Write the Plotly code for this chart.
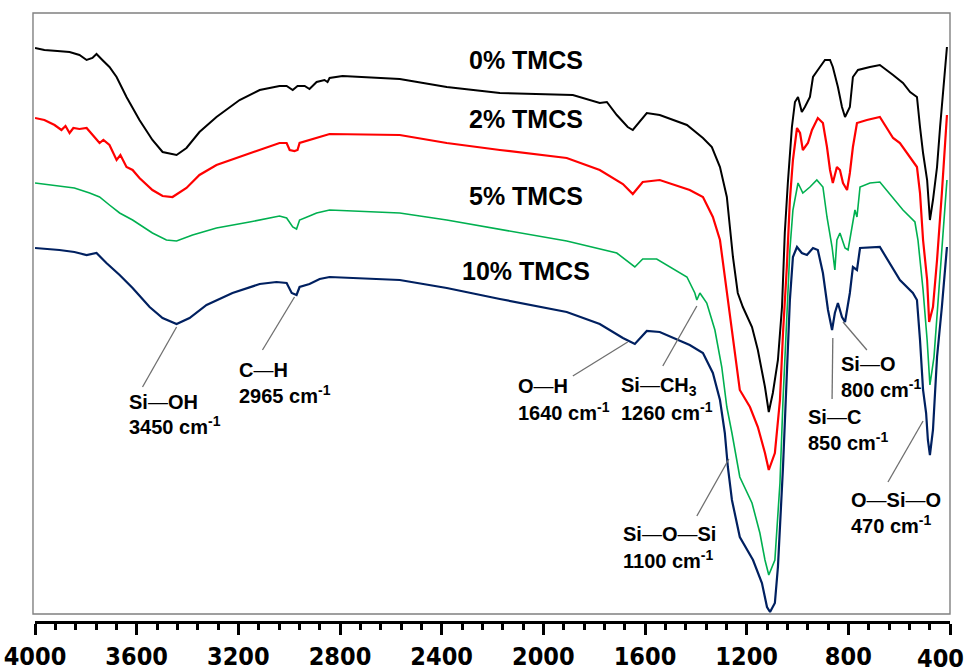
import plotly.graph_objects as go

# ---- data: wavenumber (cm-1) and transmittance (a.u., stacked) ----
wn_0 = [4000, 3963, 3912, 3864, 3825, 3797, 3774, 3758, 3735, 3707, 3679, 3640, 3589, 3538, 3498, 3443, 3404, 3353, 3286, 3195,
        3116, 3038, 3010, 2986, 2967, 2939, 2920, 2892, 2861, 2849, 2841, 2790, 2565, 2380, 2171, 2014, 1884, 1778, 1750, 1711,
        1668, 1648, 1620, 1593, 1542, 1435, 1372, 1337, 1305, 1278, 1266, 1254, 1235, 1215, 1179, 1156, 1128, 1113, 1097, 1077,
        1061, 1050, 1038, 1022, 1010, 998, 983, 971, 951, 939, 920, 892, 872, 861, 841, 825, 813, 794, 782, 762,
        715, 676, 624, 585, 557, 530, 518, 506, 490, 479, 467, 451, 439, 427, 412]
t_0 = [57.3, 57.1, 57.0, 56.9, 56.6, 56.1, 56.3, 56.7, 56.1, 55.4, 54.4, 52.4, 50.1, 48.1, 46.9, 46.6, 47.3, 48.9, 50.4, 52.1,
       53.1, 53.5, 53.5, 53.1, 53.5, 53.5, 53.2, 53.9, 54.1, 53.9, 54.3, 54.5, 54.2, 53.4, 52.8, 52.7, 52.6, 51.8, 51.9, 50.6,
       49.4, 49.1, 50.0, 50.8, 50.6, 49.6, 48.3, 47.4, 45.4, 42.4, 39.4, 36.4, 32.8, 31.4, 29.4, 27.1, 23.4, 20.9, 22.8, 26.1,
       31.4, 38.8, 43.8, 49.4, 51.9, 52.4, 50.9, 51.4, 52.4, 54.4, 55.1, 56.1, 56.1, 55.4, 53.4, 51.4, 50.4, 51.4, 54.4, 55.1,
       55.4, 55.6, 54.6, 53.8, 52.9, 52.4, 49.4, 46.8, 44.1, 40.1, 42.1, 45.4, 49.4, 53.1, 57.4]

wn_2 = [4000, 3963, 3923, 3896, 3880, 3864, 3849, 3825, 3797, 3766, 3746, 3731, 3707, 3679, 3664, 3640, 3616, 3589, 3538, 3498,
        3459, 3404, 3353, 3286, 3195, 3116, 3038, 3010, 2998, 2979, 2967, 2959, 2920, 2900, 2841, 2565, 2380, 2171, 1908, 1778,
        1687, 1648, 1609, 1542, 1424, 1372, 1333, 1305, 1286, 1266, 1239, 1227, 1187, 1156, 1128, 1113, 1089, 1069, 1057, 1042,
        1030, 1018, 1002, 990, 979, 959, 943, 920, 900, 884, 872, 861, 845, 833, 821, 805, 794, 782, 766, 727,
        676, 624, 597, 557, 530, 518, 506, 490, 482, 467, 451, 432, 420, 412]
t_2 = [50.3, 50.1, 49.6, 49.1, 49.5, 48.8, 49.3, 49.2, 49.3, 48.4, 47.8, 48.1, 47.6, 46.1, 46.6, 45.4, 45.1, 44.3, 43.1, 42.5,
       42.4, 43.3, 44.6, 45.6, 46.4, 47.1, 47.8, 47.8, 47.1, 47.0, 47.1, 47.8, 48.1, 48.3, 48.7, 48.6, 47.8, 47.1, 46.3, 45.1,
       43.7, 42.7, 43.9, 44.1, 43.1, 42.4, 40.4, 38.1, 34.4, 30.4, 25.4, 23.1, 21.4, 19.4, 16.8, 15.1, 16.8, 22.1, 28.8, 35.4,
       42.1, 46.1, 49.3, 48.8, 47.1, 47.8, 49.1, 50.3, 49.8, 47.4, 45.1, 43.8, 45.4, 45.1, 43.8, 43.1, 44.8, 47.4, 49.8, 50.1,
       50.4, 48.3, 47.8, 46.4, 45.4, 42.8, 38.1, 34.1, 29.9, 31.4, 36.1, 42.8, 48.1, 50.6]

wn_5 = [4000, 3904, 3845, 3785, 3746, 3707, 3667, 3616, 3538, 3483, 3443, 3380, 3286, 3156, 3038, 3010, 2986, 2971, 2959, 2920,
        2892, 2841, 2565, 2380, 2171, 1908, 1711, 1660, 1640, 1609, 1554, 1435, 1404, 1396, 1384, 1357, 1325, 1298, 1278, 1258,
        1227, 1179, 1148, 1128, 1113, 1089, 1069, 1057, 1042, 1030, 1018, 998, 979, 951, 924, 900, 884, 864, 853, 845,
        833, 813, 801, 786, 774, 766, 754, 715, 676, 585, 538, 526, 506, 490, 479, 463, 447, 427, 412]
t_5 = [43.8, 43.5, 43.3, 42.8, 42.4, 41.6, 40.8, 40.1, 38.8, 38.1, 38.0, 38.6, 39.3, 39.9, 40.5, 40.3, 39.4, 39.2, 40.1, 40.5,
       40.8, 41.1, 40.8, 40.1, 39.2, 38.0, 36.8, 35.8, 35.4, 36.2, 36.2, 34.4, 32.8, 32.1, 32.8, 31.8, 29.1, 25.4, 21.4, 18.8,
       14.4, 11.8, 8.8, 6.1, 4.6, 6.1, 13.8, 22.1, 30.4, 37.1, 41.1, 43.8, 42.8, 43.4, 44.1, 43.4, 40.4, 37.4, 35.1, 38.1,
       38.8, 37.3, 37.1, 39.4, 41.1, 40.4, 43.4, 43.8, 43.9, 41.1, 39.9, 38.1, 33.1, 28.1, 23.6, 26.4, 32.1, 38.8, 44.1]

wn_10 = [4000, 3904, 3845, 3797, 3758, 3719, 3667, 3616, 3549, 3498, 3443, 3392, 3325, 3223, 3116, 3050, 3010, 2990, 2971, 2959,
         2920, 2880, 2841, 2565, 2380, 2171, 1908, 1778, 1687, 1640, 1593, 1542, 1424, 1372, 1333, 1305, 1286, 1274, 1258, 1227,
         1175, 1140, 1120, 1108, 1089, 1077, 1057, 1042, 1030, 1018, 1002, 983, 963, 939, 920, 900, 880, 864, 853, 841,
         825, 813, 794, 782, 766, 754, 676, 597, 546, 530, 518, 506, 494, 487, 479, 467, 451, 432, 412]
t_10 = [37.3, 37.1, 36.9, 36.6, 36.8, 35.8, 34.6, 33.3, 31.4, 30.3, 29.7, 30.3, 31.6, 32.8, 33.7, 33.9, 33.8, 32.8, 32.6, 33.4,
        33.7, 34.2, 34.4, 34.1, 33.3, 32.2, 30.9, 29.7, 28.3, 27.7, 29.0, 28.9, 27.6, 26.8, 24.8, 22.1, 18.8, 15.4, 12.1, 8.4,
        6.1, 3.8, 1.4, 0.9, 1.8, 5.4, 15.4, 25.4, 32.1, 36.4, 37.4, 36.8, 36.6, 37.3, 37.1, 34.8, 31.1, 29.1, 30.8, 31.8,
        30.4, 29.9, 32.8, 35.4, 35.1, 37.3, 37.4, 34.1, 32.8, 32.1, 28.1, 23.1, 20.8, 18.1, 16.6, 19.1, 26.4, 31.4, 37.4]

series_names = ["0% TMCS", "2% TMCS", "5% TMCS", "10% TMCS"]
series_colors = ["#000000", "#ff0000", "#00b050", "#002060"]
series_widths = [2.0, 2.2, 1.6, 2.2]
series_label_y = [56.1, 50.2, 42.5, 35.0]
series_label_x = 2070

tick_vals = [4000, 3600, 3200, 2800, 2400, 2000, 1600, 1200, 800, 400]
tick_text = ["4000", "3600", "3200", "2800", "2400", "2000", "1600", "1200", "800", ""]
last_tick_label = "400"   # drawn right-aligned at the figure edge, as in the original

# band labels: (line1, line2, text x, line1 y, line2 y, leader from (x,y) to (x,y))
band_labels = [
    ("<b>Si</b>—<b>OH</b>", "<b>3450 cm<sup>-1</sup></b>", 3636, 21.9, 19.6, 3443, 29.4, 3577, 23.4),
    ("<b>C</b>—<b>H</b>", "<b>2965 cm<sup>-1</sup></b>", 3203, 25.1, 22.7, 2979, 32.4, 3105, 27.1),
    ("<b>O</b>—<b>H</b>", "<b>1640 cm<sup>-1</sup></b>", 2105, 23.5, 21.0, 1668, 27.9, 1884, 24.5),
    ("<b>Si</b>—<b>CH<sub>3</sub></b>", "<b>1260 cm<sup>-1</sup></b>", 1699, 23.5, 21.0, 1396, 31.5, 1530, 25.5),
    ("<b>Si</b>—<b>O</b>—<b>Si</b>", "<b>1100 cm<sup>-1</sup></b>", 1691, 8.7, 6.2, 1270, 16.2, 1396, 10.5),
    ("<b>Si</b>—<b>O</b>", "<b>800 cm<sup>-1</sup></b>", 833, 25.7, 23.3, 821, 29.9, 727, 27.1),
    ("<b>Si</b>—<b>C</b>", "<b>850 cm<sup>-1</sup></b>", 963, 20.4, 18.0, 861, 28.3, 864, 22.2),
    ("<b>O</b>—<b>Si</b>—<b>O</b>", "<b>470 cm<sup>-1</sup></b>", 794, 12.1, 9.7, 506, 20.0, 644, 13.9),
]

fig = go.Figure()
for wn, t, name, col, w in zip([wn_0, wn_2, wn_5, wn_10], [t_0, t_2, t_5, t_10],
                               series_names, series_colors, series_widths):
    fig.add_trace(go.Scatter(x=wn, y=t, mode="lines", name=name,
                             line=dict(color=col, width=w), showlegend=False))

font_lbl = "Liberation Sans, Arial, sans-serif"
tick_font = dict(family="DejaVu Sans Condensed, Liberation Sans, Arial, sans-serif", size=25, color="black", weight="bold")
annotations = []
for name, yy in zip(series_names, series_label_y):
    annotations.append(dict(x=series_label_x, y=yy, xref="x", yref="y", text="<b>" + name + "</b>",
                            showarrow=False, xanchor="center", yanchor="middle",
                            font=dict(family=font_lbl, size=25, color="black")))
shapes = []
for l1, l2, tx, y1, y2, lx0, ly0, lx1, ly1 in band_labels:
    for txt, yy in ((l1, y1), (l2, y2)):
        annotations.append(dict(x=tx, y=yy, xref="x", yref="y", text=txt, showarrow=False,
                                xanchor="left", yanchor="middle", borderpad=0,
                                font=dict(family=font_lbl, size=20, color="black")))
    shapes.append(dict(type="line", xref="x", yref="y", x0=lx0, y0=ly0, x1=lx1, y1=ly1,
                       line=dict(color="#6f6f6f", width=1.3)))

# last tick label, kept inside the page
annotations.append(dict(x=1.016, y=-0.061, xref="paper", yref="paper", text=last_tick_label,
                        showarrow=False, xanchor="right", yanchor="middle", borderpad=0, font=tick_font))

# frame box
shapes.append(dict(type="rect", xref="paper", yref="paper", x0=-0.0022, x1=1.0, y0=0.0115, y1=1.0,
                   line=dict(color="#808080", width=1.4), fillcolor="rgba(0,0,0,0)", layer="below"))

fig.update_layout(
    width=971, height=672,
    margin=dict(l=35, r=21, t=13, b=51, autoexpand=False),
    paper_bgcolor="white", plot_bgcolor="white",
    annotations=annotations, shapes=shapes,
    xaxis=dict(range=[4000, 400], tickvals=tick_vals, ticktext=tick_text,
               automargin=False, ticklabeloverflow="allow",
               showgrid=False, zeroline=False, showline=True, linecolor="black", linewidth=3,
               ticks="outside", ticklen=11, tickwidth=3, tickcolor="black",
               ticklabelstandoff=0,
               tickfont=tick_font,
               minor=dict(dtick=80, tick0=400, ticks="outside", ticklen=6, tickwidth=3, tickcolor="black", showgrid=False)),
    yaxis=dict(range=[0, 60.8], visible=False, automargin=False),
)
fig.write_html("out.html", config={"displayModeBar": False, "staticPlot": True},
               post_script="document.body.style.margin='0px';document.body.style.overflow='hidden';")
